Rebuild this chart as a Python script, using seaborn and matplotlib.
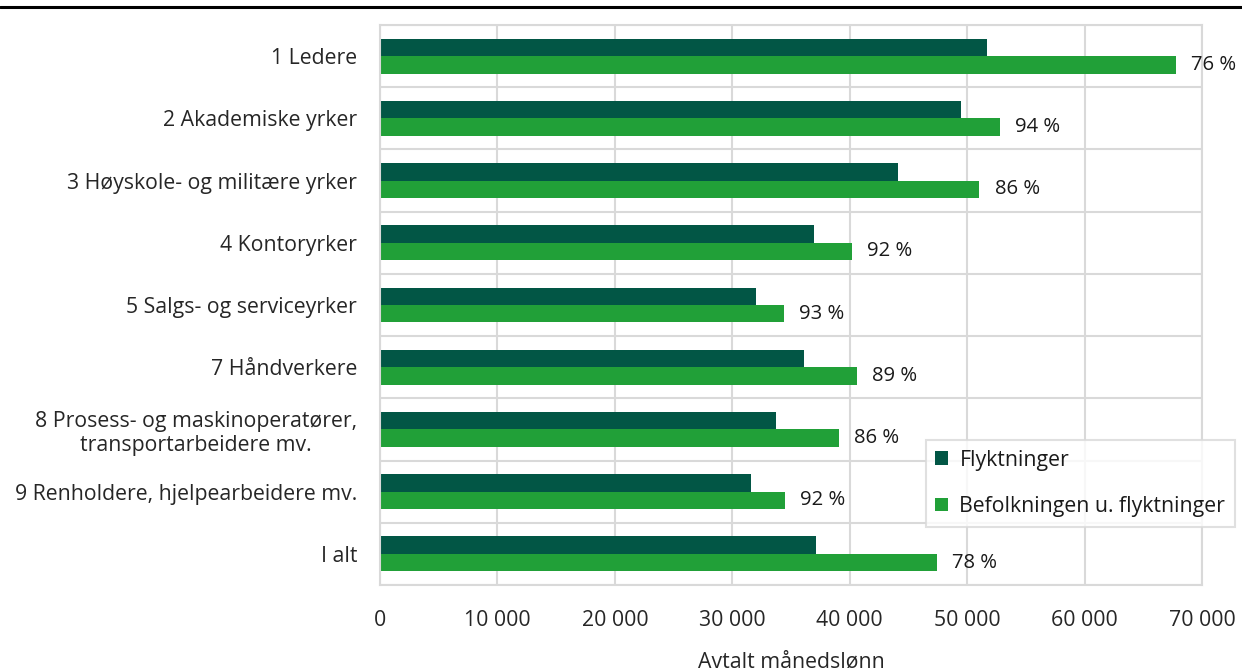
import numpy as np
import pandas as pd
import matplotlib
matplotlib.use("Agg")
import matplotlib.pyplot as plt
from matplotlib.lines import Line2D
import seaborn as sns

# Occupational groups and agreed monthly wages (NOK)
kategorier = [
    "1 Ledere",
    "2 Akademiske yrker",
    "3 Høyskole- og militære yrker",
    "4 Kontoryrker",
    "5 Salgs- og serviceyrker",
    "7 Håndverkere",
    "8 Prosess- og maskinoperatører,\ntransportarbeidere mv.",
    "9 Renholdere, hjelpearbeidere mv.",
    "I alt",
]
flyktninger = [51700, 49500, 44100, 37000, 32000, 36100, 33700, 31600, 37150]
befolkningen = [67800, 52800, 51050, 40200, 34400, 40600, 39100, 34500, 47400]
serier = ["Flyktninger", "Befolkningen u. flyktninger"]
x_ticks = [0, 10000, 20000, 30000, 40000, 50000, 60000, 70000]

farger = ["#025645", "#21a038"]
grid_farge = "#d9d9d9"
fs = 15.3

df = pd.DataFrame({
    "kategori": kategorier * 2,
    "lonn": flyktninger + befolkningen,
    "gruppe": [serier[0]] * len(kategorier) + [serier[1]] * len(kategorier),
})

sns.set_theme(style="white")
plt.rcParams["font.family"] = ["Open Sans", "DejaVu Sans"]
plt.rcParams["text.color"] = "#1a1a1a"

fig = plt.figure(figsize=(12.42, 6.68), dpi=100)
W, H = 1242, 668
ax = fig.add_axes([380 / W, 1 - 585 / H, (1202 - 380) / W, (585 - 25) / H])

sns.barplot(
    data=df, y="kategori", x="lonn", hue="gruppe", orient="h",
    order=kategorier, hue_order=serier, palette=farger,
    saturation=1, width=0.56, ax=ax, linewidth=0,
)

# Ratio labels to the right of the population bars
prosent = [f"{round(f / b * 100)} %" for f, b in zip(flyktninger, befolkningen)]
ax.bar_label(ax.containers[1], labels=prosent, padding=11, fontsize=14.6,
             color="#1a1a1a")

ax.set_xlim(0, 70000)
ax.set_ylim(len(kategorier) - 0.5, -0.5)
ax.set_xticks(x_ticks)
ax.set_xticklabels([f"{v:,}".replace(",", " ") for v in x_ticks], fontsize=fs)
ax.set_yticks(range(len(kategorier)))
ax.set_yticklabels(kategorier, fontsize=fs, multialignment="center")
ax.set_yticks(np.arange(-0.5, len(kategorier), 1), minor=True)
ax.tick_params(axis="both", which="both", length=0)
ax.tick_params(axis="x", pad=18)
ax.tick_params(axis="y", pad=16.5)

ax.set_axisbelow(True)
ax.grid(axis="x", which="major", color=grid_farge, linewidth=1.5)
ax.grid(axis="y", which="minor", color=grid_farge, linewidth=1.5)
ax.grid(axis="y", which="major", visible=False)
for s in ax.spines.values():
    s.set_visible(True)
    s.set_color(grid_farge)
    s.set_linewidth(1.5)

ax.set_ylabel("")
ax.set_xlabel("Avtalt månedslønn", fontsize=fs, labelpad=15)

leg = ax.legend(
    loc="upper left", bbox_to_anchor=(0.664, 0.259), frameon=True,
    fancybox=False, fontsize=fs, handlelength=0.58, handleheight=0.58,
    labelspacing=1.2, borderpad=0.45, handletextpad=0.55, borderaxespad=0,
)
leg.get_frame().set_edgecolor(grid_farge)
leg.get_frame().set_linewidth(1.5)

# Thick rule across the top of the figure
fig.add_artist(Line2D([0, 1], [1 - 7 / H, 1 - 7 / H], transform=fig.transFigure,
                      color="black", linewidth=2.2))

fig.savefig("out.png", dpi=100)
